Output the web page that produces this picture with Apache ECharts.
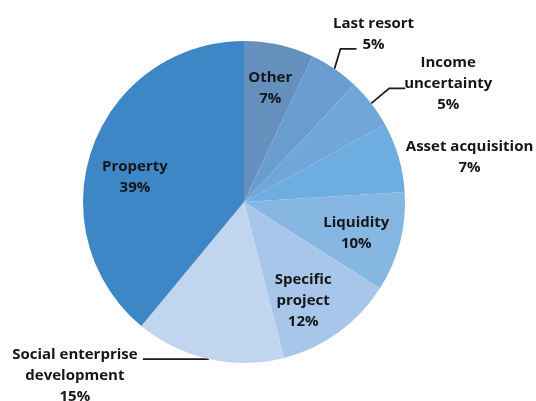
<!DOCTYPE html>
<html>
<head>
<meta charset="utf-8">
<script src="https://cdn.jsdelivr.net/npm/echarts@6/dist/echarts.min.js"></script>
<style>
  html, body { margin: 0; padding: 0; background: #ffffff; }
  #chart { width: 536px; height: 401px; }
</style>
</head>
<body>
<div id="chart"></div>
<script>
// Reasons for borrowing, share of respondents (%)
const categories = ['Other', 'Last resort', 'Income uncertainty', 'Asset acquisition',
  'Liquidity', 'Specific project', 'Social enterprise development', 'Property'];
const shares = [7, 5, 5, 7, 10, 12, 15, 39];
// Label text as it is wrapped on the chart
const labelNames = ['Other', 'Last resort', 'Income\nuncertainty', 'Asset acquisition',
  'Liquidity', 'Specific\nproject', 'Social enterprise\ndevelopment', 'Property'];

const sliceColors = ['#6590bd', '#6a9dcf', '#70a6d9', '#6dade0',
  '#86b7e3', '#a7c6e9', '#c1d6ee', '#3e87c7'];

// Pie geometry (pixels)
const CX = 244, CY = 202, R = 161;

// Label placement: inside labels sit along the slice's mid-angle;
// outside labels hang off a leader line drawn from the rim.
const labelPlacement = [
  { kind: 'inside', ratio: 0.72, nudge: [1, -1] },
  { kind: 'line', elbow: [6, -20], run: 16, offset: [17, -15] },
  { kind: 'line', elbow: [18, -15], run: 16, offset: [43, -5] },
  { kind: 'outside', ratio: 1.42, nudge: [6, 19] },
  { kind: 'inside', ratio: 0.72, nudge: [0, 2] },
  { kind: 'inside', ratio: 0.72, nudge: [-9, 5] },
  { kind: 'line', elbow: [0, 0], run: -66, offset: [-68, 17] },
  { kind: 'inside', ratio: 0.72, nudge: [0, 15] }
];

const total = shares.reduce((a, b) => a + b, 0);
const midAngles = [];
let acc = 0;
shares.forEach(v => { midAngles.push((acc + v / 2) / total * 2 * Math.PI); acc += v; });

function polar(r, a) {
  return [CX + r * Math.sin(a), CY - r * Math.cos(a)];
}

const chart = echarts.init(document.getElementById('chart'), null, { renderer: 'canvas' });

const textStyle = {
  fontFamily: 'Open Sans',
  fontWeight: 'bold',
  fontSize: 15,
  lineHeight: 21,
  color: '#161616',
  align: 'center'
};

chart.setOption({
  backgroundColor: '#ffffff',
  animation: false,
  series: [{
    type: 'pie',
    center: [CX, CY],
    radius: [0, R],
    startAngle: 90,
    clockwise: true,
    avoidLabelOverlap: false,
    itemStyle: { borderWidth: 0 },
    label: Object.assign({ formatter: p => labelNames[p.dataIndex] + '\n' + p.value + '%' }, textStyle),
    labelLine: { lineStyle: { color: '#1c1c1c', width: 1.8 } },
    data: categories.map((name, i) => {
      const lined = labelPlacement[i].kind === 'line';
      return {
        name: name,
        value: shares[i],
        itemStyle: { color: sliceColors[i] },
        label: { position: lined ? 'outside' : 'inside' },
        labelLine: { show: lined, length: 10, length2: 10 }
      };
    }),
    labelLayout: function (p) {
      const i = p.dataIndex;
      const spec = labelPlacement[i];
      const a = midAngles[i];
      if (spec.kind === 'line') {
        const start = polar(R, a);
        const elbow = [start[0] + spec.elbow[0], start[1] + spec.elbow[1]];
        const end = [elbow[0] + spec.run, elbow[1]];
        return {
          x: end[0] + spec.offset[0],
          y: end[1] + spec.offset[1],
          align: 'center',
          verticalAlign: 'middle',
          labelLinePoints: [start, elbow, end]
        };
      }
      const base = polar(spec.ratio * R, a);
      return {
        x: base[0] + spec.nudge[0],
        y: base[1] + spec.nudge[1],
        align: 'center',
        verticalAlign: 'middle'
      };
    }
  }]
});
</script>
</body>
</html>
